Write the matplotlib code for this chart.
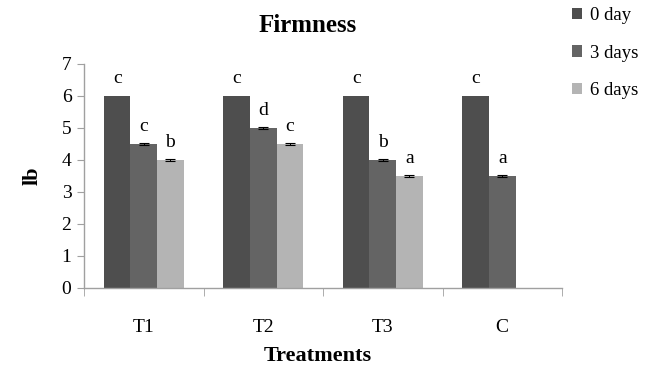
import numpy as np
import matplotlib
matplotlib.use("Agg")
import matplotlib.pyplot as plt

# data
treatments = ["T1", "T2", "T3", "C"]
series = ["0 day", "3 days", "6 days"]
day0 = [6.0, 6.0, 6.0, 6.0]
day3 = [4.5, 5.0, 4.0, 3.5]
day6 = [4.0, 4.5, 3.5, np.nan]
err0 = None
err3 = [0.02, 0.02, 0.02, 0.02]
err6 = [0.02, 0.02, 0.02, 0.0]
letters0 = ["c", "c", "c", "c"]
letters3 = ["c", "d", "b", "a"]
letters6 = ["b", "c", "a", ""]

colors = ["#4e4e4e", "#646464", "#b4b4b4"]

plt.rcParams['font.family'] = ['Liberation Serif', 'DejaVu Serif']

fig = plt.figure(figsize=(6.62, 3.71), dpi=100)
ax = fig.add_axes([84 / 662, 1 - 288 / 371, 478 / 662, 224 / 371])

x = np.arange(len(treatments))
w = 0.222
values = [day0, day3, day6]
errs = [err0, err3, err6]
letters = [letters0, letters3, letters6]

for i, (vals, er, lab, col, let) in enumerate(zip(values, errs, series, colors, letters)):
    pos = x + (i - 1) * w
    ax.bar(pos, vals, width=w, color=col, label=lab, linewidth=0,
           yerr=er, error_kw=dict(ecolor="black", elinewidth=0.7, capsize=3.5, capthick=0.8))
    for p, v, t in zip(pos, vals, let):
        if t and not np.isnan(v):
            ax.text(p, v + 0.42, t, ha="center", va="baseline", fontsize=14)

ax.set_xlim(-0.5, len(treatments) - 0.5)
ax.set_ylim(0, 7)
ax.set_yticks(range(0, 8))
ax.set_xticks(x)
ax.set_xticklabels(treatments, fontsize=14)
ax.set_xticks(np.arange(-0.5, len(treatments)), minor=True)
ax.tick_params(axis="x", which="major", length=0, pad=22)
ax.tick_params(axis="x", which="minor", length=6, color="#a0a0a0", direction="out")
ax.tick_params(axis="y", labelsize=14, length=5, color="#a0a0a0", pad=4)

for s in ["top", "right"]:
    ax.spines[s].set_visible(False)
for s in ["left", "bottom"]:
    ax.spines[s].set_color("#a0a0a0")
    ax.spines[s].set_linewidth(1.0)

ax.set_ylabel("lb", fontsize=16, fontweight="bold", labelpad=14)
ax.set_xlabel("Treatments", fontsize=16, fontweight="bold")
ax.xaxis.set_label_coords((318 - 84) / 478, -(356 - 288) / 224, transform=ax.transAxes)
ax.xaxis.label.set_va("center")
fig.text(308 / 662, 1 - 25 / 371, "Firmness", ha="center", va="center",
         fontsize=18, fontweight="bold")

fig.legend(loc="upper left", bbox_to_anchor=(572 / 662, 1 - 7 / 371), frameon=False,
           fontsize=13.5, handlelength=0.55, handleheight=0.55, handletextpad=0.4,
           labelspacing=1.1, borderpad=0, borderaxespad=0)

fig.savefig("out.png", dpi=100)
